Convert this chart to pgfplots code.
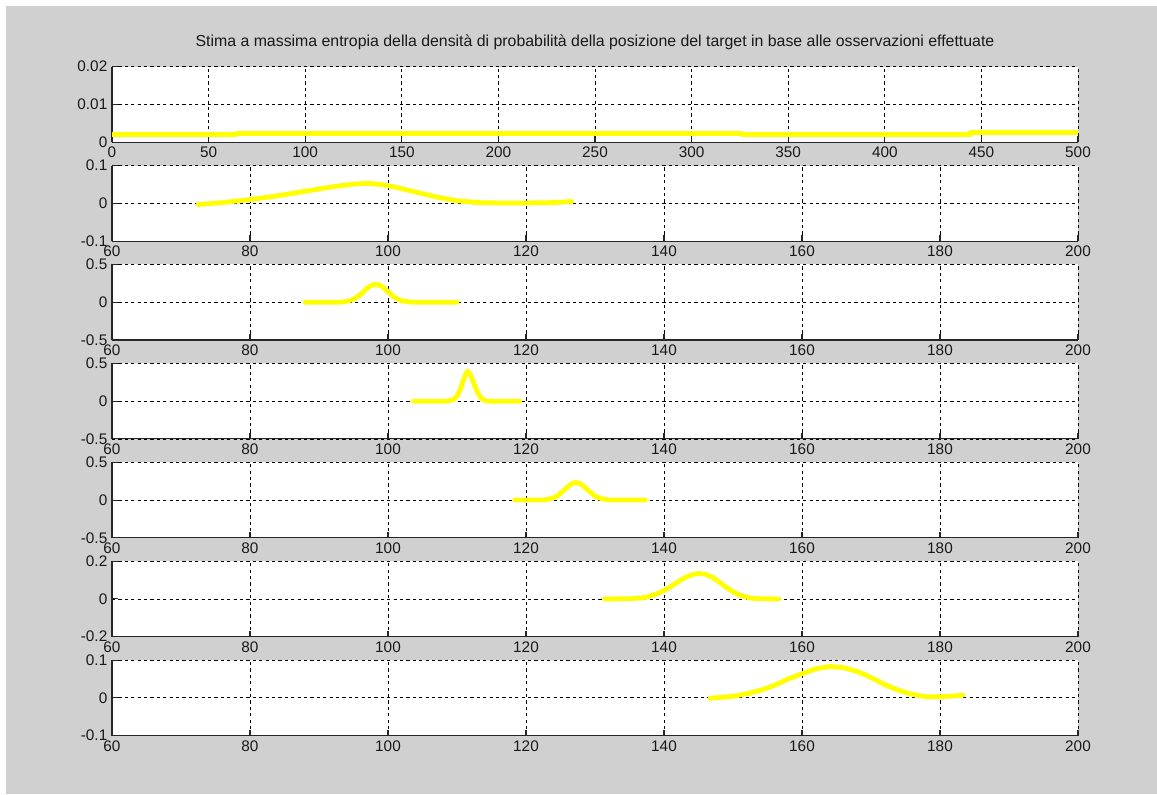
\documentclass[border=0pt]{standalone}
\usepackage{pgfplots}
\pgfplotsset{compat=1.18}
\usepackage{fontspec}
\setmainfont{Liberation Sans}

\definecolor{figgray}{RGB}{208,208,208}
\definecolor{tracecol}{RGB}{255,255,0}
\def\PX{0.75pt}

\pgfplotsset{
  strip/.style={
    scale only axis, width=966*\PX, height=75.5*\PX,
    anchor=south west,
    axis background/.style={fill=white},
    axis x line*=bottom, axis y line*=left,
    axis line style={-, black!85, line width=0.8pt},
    grid=major,
    major grid style={black, line width=0.6pt, dash pattern=on 2.4pt off 2.4pt},
    tick align=inside, major tick length=4.5pt,
    tick style={black!85, line width=0.8pt},
    scaled x ticks=false, scaled y ticks=false,
    ticklabel style={font=\fontsize{11.5}{13}\selectfont, text=black!90},
  },
  zoomstrip/.style={strip, xmin=60, xmax=200,
    xtick={60,80,100,120,140,160,180,200},
    xticklabels={60,80,100,120,140,160,180,200}},
  trace/.style={tracecol, line width=3.6pt, line join=round, line cap=round, no markers},
}

\begin{document}
\begin{tikzpicture}
\fill[white] (0,0) rectangle (1157*\PX, 794*\PX);
\fill[figgray] (6*\PX, 0) rectangle (1157*\PX, 788*\PX);

% full range, density almost uniform
\begin{axis}[strip, at={(112*\PX, 651.8*\PX)},
  xmin=0, xmax=500, ymin=0, ymax=0.02,
  xtick={0,50,...,500}, xticklabels={0,50,100,150,200,250,300,350,400,450,500},
  ytick={0,0.01,0.02}, yticklabels={0,0.01,0.02},
  title={Stima a massima entropia della densità di probabilità della posizione del target in base alle osservazioni effettuate},
  title style={font=\fontsize{11.9}{13}\selectfont, text=black!90, at={(0.5,1)}, anchor=base, yshift=8.8pt}]
\addplot[trace] coordinates {(0,0.0021) (64.5,0.0021) (64.5,0.0024) (326,0.0024) (326,0.0021) (444.4,0.0021) (444.4,0.0025) (500,0.0025)};
\end{axis}

\begin{axis}[zoomstrip, at={(112*\PX, 552.9*\PX)},
  ymin=-0.1, ymax=0.1, ytick={-0.1,0,0.1}, yticklabels={-0.1,0,0.1}]
\addplot[trace] coordinates {(72.5,-0.003) (76,0.002) (80,0.010) (84,0.020) (88,0.032) (92,0.044) (95,0.051) (97,0.053) (99,0.050) (101,0.043) (104,0.030) (107,0.017) (110,0.007) (113,0.002) (116,0.001) (120,0.001) (124,0.002) (126.6,0.005)};
\end{axis}

\begin{axis}[zoomstrip, at={(112*\PX, 454.0*\PX)},
  ymin=-0.5, ymax=0.5, ytick={-0.5,0,0.5}, yticklabels={-0.5,0,0.5}]
\addplot[trace] coordinates {(88,0) (93,0) (94,0.01) (95,0.04) (96,0.10) (97,0.19) (98,0.24) (99,0.22) (100,0.14) (101,0.06) (102,0.02) (103,0.005) (104,0) (110,0)};
\end{axis}

\begin{axis}[zoomstrip, at={(112*\PX, 355.1*\PX)},
  ymin=-0.5, ymax=0.5, ytick={-0.5,0,0.5}, yticklabels={-0.5,0,0.5}]
\addplot[trace] coordinates {(103.7,0) (108.5,0) (109.5,0.02) (110,0.07) (110.5,0.16) (111,0.30) (111.5,0.40) (112,0.34) (112.5,0.22) (113,0.11) (113.5,0.04) (114,0.012) (114.5,0) (119.1,0)};
\end{axis}

\begin{axis}[zoomstrip, at={(112*\PX, 256.2*\PX)},
  ymin=-0.5, ymax=0.5, ytick={-0.5,0,0.5}, yticklabels={-0.5,0,0.5}]
\addplot[trace] coordinates {(118.4,0) (122.5,0) (123.5,0.015) (124.5,0.05) (125.5,0.13) (126.5,0.21) (127.2,0.235) (128,0.21) (129,0.13) (130,0.05) (131,0.015) (132,0.002) (137.3,0)};
\end{axis}

\begin{axis}[zoomstrip, at={(112*\PX, 157.3*\PX)},
  ymin=-0.2, ymax=0.2, ytick={-0.2,0,0.2}, yticklabels={-0.2,0,0.2}]
\addplot[trace] coordinates {(131.4,0) (135,0.001) (137,0.006) (138,0.015) (139,0.028) (140,0.045) (141,0.066) (142,0.09) (143,0.112) (144,0.128) (145,0.135) (146,0.131) (147,0.115) (148,0.09) (149,0.062) (150,0.038) (151,0.02) (152,0.009) (153,0.003) (154,0.001) (156.6,0)};
\end{axis}

\begin{axis}[zoomstrip, at={(112*\PX, 58.4*\PX)},
  ymin=-0.1, ymax=0.1, ytick={-0.1,0,0.1}, yticklabels={-0.1,0,0.1}]
\addplot[trace] coordinates {(146.7,-0.001) (150,0.004) (152,0.011) (154,0.02) (156,0.033) (158,0.05) (160,0.064) (162,0.077) (164,0.083) (166,0.08) (168,0.07) (170,0.054) (172,0.035) (174,0.02) (176,0.009) (178,0.003) (180,0.003) (182,0.005) (183.3,0.007)};
\end{axis}
\end{tikzpicture}
\end{document}
